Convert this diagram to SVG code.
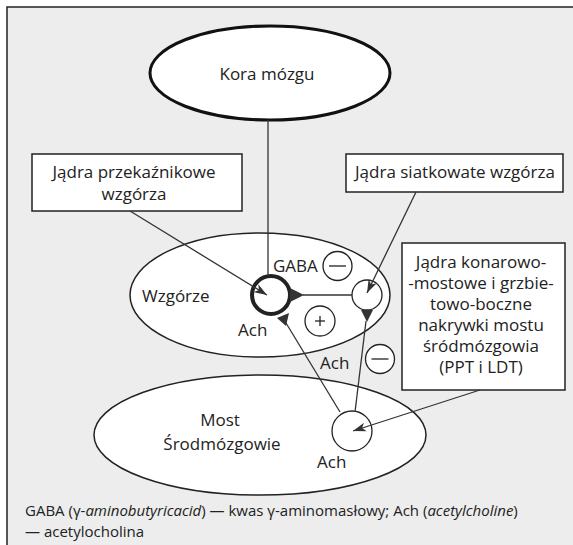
<svg xmlns="http://www.w3.org/2000/svg" width="573" height="545" viewBox="0 0 573 545">
<style>
text{font-family:"Open Sans","Noto Sans","Liberation Sans",sans-serif;fill:#222;font-size:17px}
.c{text-anchor:middle}
.ln{stroke:#333;stroke-width:1.3;fill:none}
.ar{stroke:#333;stroke-width:1.3;fill:none;marker-end:url(#ah)}
.el{fill:#fff;stroke:#222;stroke-width:1.5}
.bx{fill:#fff;stroke:#222;stroke-width:1.5}
.sg{fill:#fff;stroke:#222;stroke-width:1.3}
.tri{fill:#333;stroke:none}
.ft{font-size:15px}
</style>
<defs>
<marker id="ah" markerUnits="userSpaceOnUse" markerWidth="14" markerHeight="10" refX="13" refY="4.5" orient="auto" viewBox="0 0 14 9">
<path d="M0,0 L13,4.5 L0,9 L3.5,4.5 z" fill="#333"/>
</marker>
</defs>
<rect x="0" y="0" width="573" height="545" fill="#fff"/>
<rect x="7" y="7" width="566" height="538" fill="#ecedec"/>
<path d="M7,545 V7 H573" fill="none" stroke="#222" stroke-width="1.5"/>

<g id="kora">
<ellipse cx="270" cy="73" rx="120" ry="47" fill="#fff" stroke="#111" stroke-width="3"/>
<text x="267" y="80" class="c">Kora mózgu</text>
</g>

<g id="wzgorze">
<ellipse class="el" cx="260" cy="295" rx="130" ry="62"/>
<text x="142" y="302">Wzgórze</text>
</g>

<g id="most">
<ellipse class="el" cx="260" cy="435" rx="166" ry="60"/>
<text x="220" y="426" class="c">Most</text>
<text x="222" y="450" class="c">Środmózgowie</text>
</g>

<g id="box-przekaznikowe">
<rect class="bx" x="32" y="154" width="210" height="57"/>
<text x="134" y="178" class="c">Jądra przekaźnikowe</text>
<text x="134" y="200" class="c">wzgórza</text>
</g>

<g id="box-siatkowate">
<rect class="bx" x="346" y="154" width="217" height="38"/>
<text x="455" y="178" class="c">Jądra siatkowate wzgórza</text>
</g>

<g id="box-ppt">
<rect class="bx" x="402" y="243" width="163" height="147"/>
<text x="481" y="268" class="c">Jądra konarowo-</text>
<text x="481" y="289" class="c">-mostowe i grzbie-</text>
<text x="481" y="310" class="c">towo-boczne</text>
<text x="481" y="331" class="c">nakrywki mostu</text>
<text x="481" y="352" class="c">śródmózgowia</text>
<text x="481" y="373" class="c">(PPT i LDT)</text>
</g>

<g id="thalamic-relay-cell">
<circle cx="271" cy="295" r="19" fill="#fff" stroke="#222" stroke-width="4"/>
</g>
<g id="reticular-cell">
<circle class="sg" cx="367" cy="295" r="15"/>
</g>
<g id="ppt-cell">
<circle class="sg" cx="352" cy="431" r="20"/>
</g>

<g id="connectors">
<line class="ln" x1="268" y1="120" x2="268" y2="275"/>
<line class="ar" x1="130" y1="211" x2="267" y2="295"/>
<line class="ar" x1="416" y1="192" x2="367" y2="293"/>
<line class="ar" x1="480" y1="390" x2="353" y2="431"/>
<line class="ln" x1="303" y1="295" x2="352" y2="295"/>
<polygon class="tri" points="290,288 290,302 304,295"/>
<line class="ln" x1="286" y1="323" x2="340" y2="412"/>
<polygon class="tri" points="277,318 289,313 286,326"/>
<line class="ln" x1="366" y1="321" x2="355" y2="412"/>
<polygon class="tri" points="361,310 373,310 367,322"/>
</g>

<g id="labels">
<text x="273" y="272">GABA</text>
<g id="sign-gaba"><circle class="sg" cx="337.5" cy="266" r="14.5"/><line x1="329" y1="266" x2="346" y2="266" stroke="#222" stroke-width="1.3"/></g>
<g id="sign-plus"><circle class="sg" cx="320" cy="321" r="15"/><line x1="315" y1="321" x2="325" y2="321" stroke="#222" stroke-width="1.3"/><line x1="320" y1="316" x2="320" y2="326" stroke="#222" stroke-width="1.3"/></g>
<g id="sign-minus2"><circle class="sg" cx="380" cy="359" r="14.5"/><line x1="371.5" y1="359" x2="388.5" y2="359" stroke="#222" stroke-width="1.3"/></g>
<text x="238" y="336">Ach</text>
<text x="320" y="369">Ach</text>
<text x="317" y="468">Ach</text>
</g>

<g id="footer">
<text x="25" y="516" class="ft">GABA (γ-<tspan font-style="italic">aminobutyricacid</tspan>) — kwas γ-aminomasłowy; Ach (<tspan font-style="italic">acetylcholine</tspan>)</text>
<text x="25" y="537" class="ft">— acetylocholina</text>
</g>
</svg>
